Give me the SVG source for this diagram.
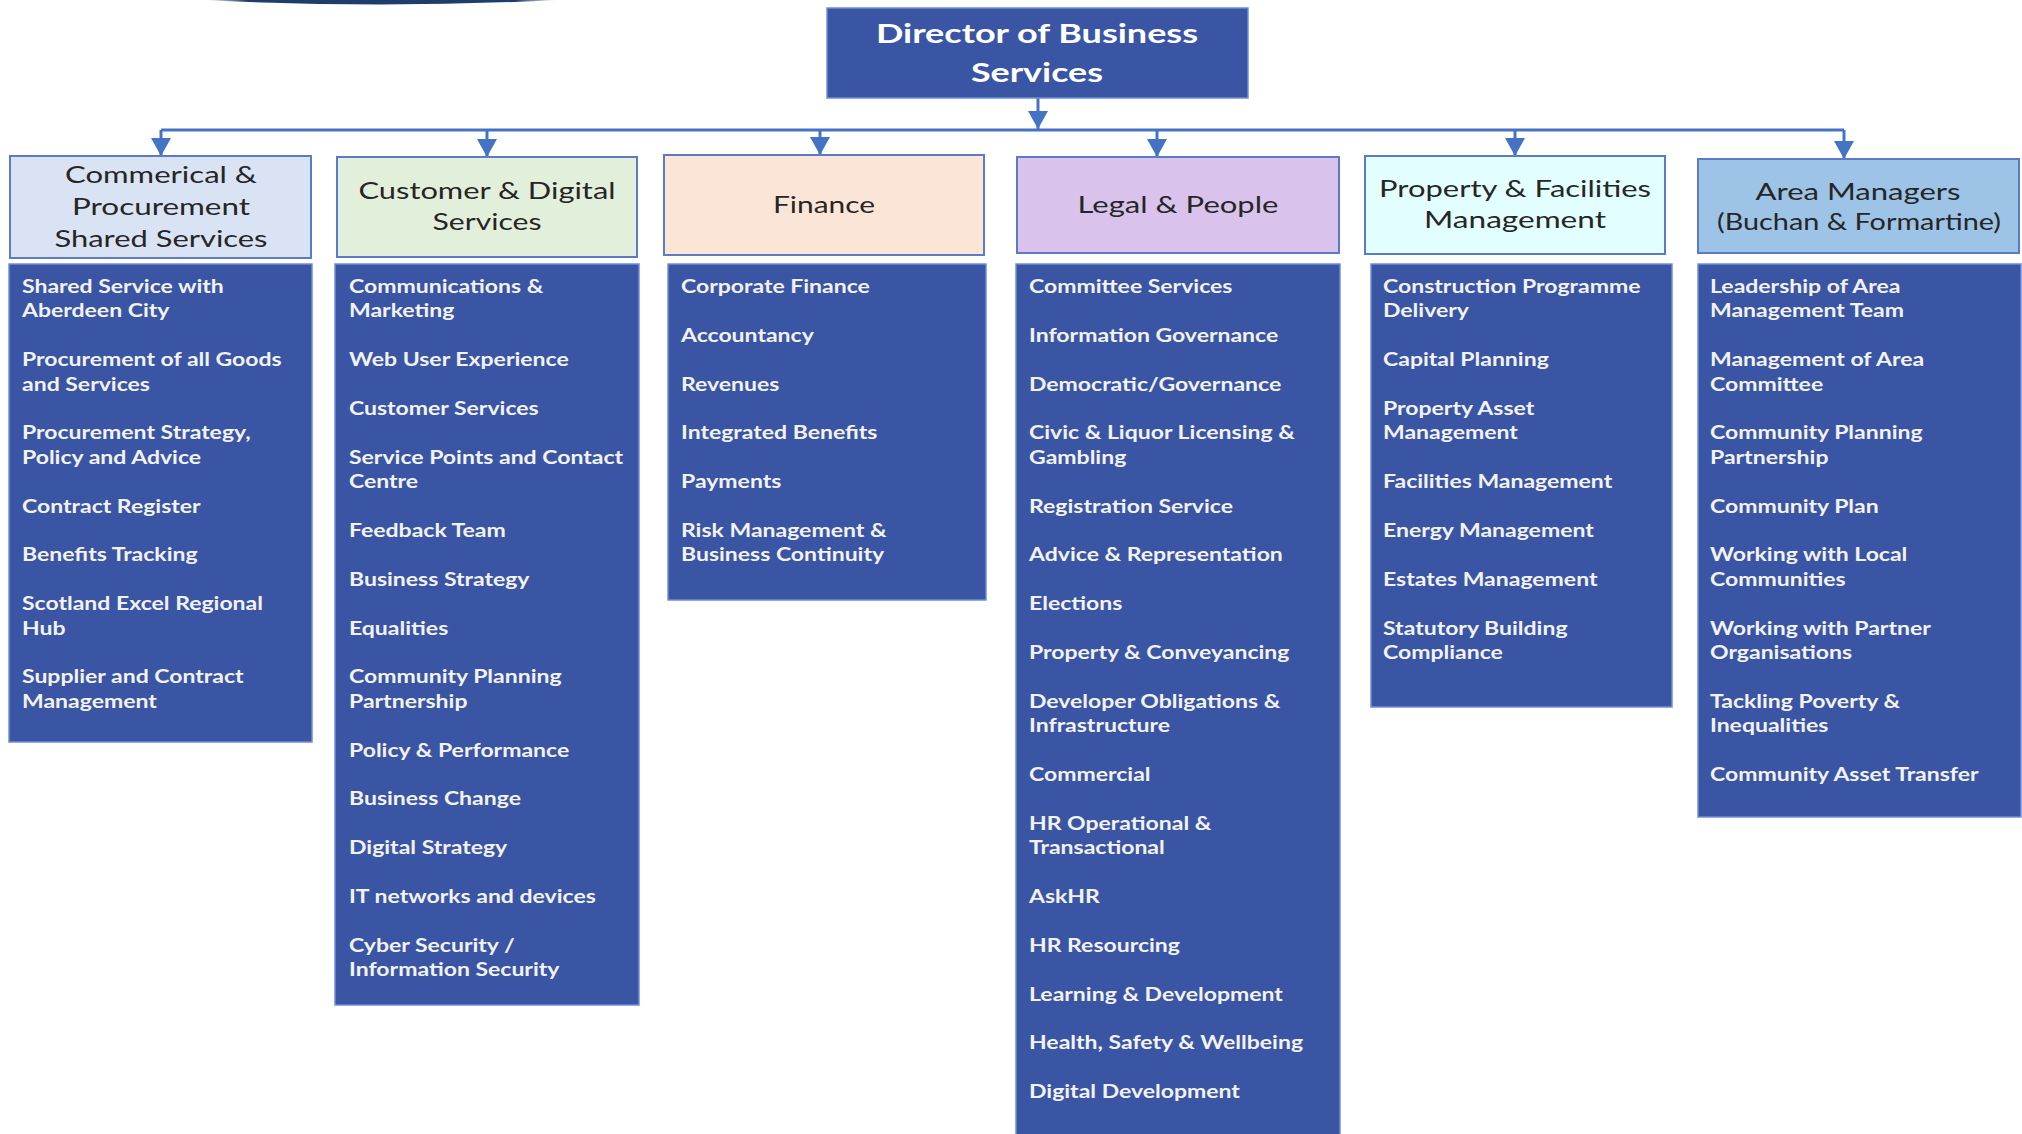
<svg xmlns="http://www.w3.org/2000/svg" width="2022" height="1134" viewBox="0 0 2022 1134">
  <defs>
    <linearGradient id="bandFade" x1="0" y1="0" x2="1" y2="0">
      <stop offset="0" stop-color="#1F3D6B" stop-opacity="0"/>
      <stop offset="0.12" stop-color="#1F3D6B"/>
      <stop offset="0.88" stop-color="#1F3D6B"/>
      <stop offset="1" stop-color="#1F3D6B" stop-opacity="0"/>
    </linearGradient>
    <marker id="arrow" markerUnits="userSpaceOnUse" viewBox="0 -11 18 22" refX="18" refY="0" markerWidth="18" markerHeight="22" orient="auto">
      <path d="M0,-10 L18,0 L0,10 Z" fill="#4472C4"/>
    </marker>
    <style>
      .hdr { stroke: #5B7BC8; stroke-width: 2; }
      .lst { fill: #3A55A4; stroke: #6F8FD8; stroke-width: 1.5; }
      .ht { font-family: Lato, "Liberation Sans", sans-serif; font-size: 23.5px; fill: #262626; text-anchor: middle; }
      .dt { font-family: Lato, "Liberation Sans", sans-serif; font-size: 26px; font-weight: 700; fill: #FFFFFF; text-anchor: middle; }
      .it { font-family: Lato, "Liberation Sans", sans-serif; font-size: 19.5px; font-weight: 700; fill: #F2F2F2; }
      .conn { stroke: #4472C4; stroke-width: 3; fill: none; }
    </style>
  </defs>

  <rect width="2022" height="1134" fill="#FFFFFF"/>

  <!-- decorative band at the top edge -->
  <path d="M204,0 Q381,9 558,0 Z" fill="url(#bandFade)"/>

  <!-- connectors -->
  <g id="connectors">
    <path class="conn" d="M1038,98 V129" marker-end="url(#arrow)"/>
    <path class="conn" d="M161,130 H1844"/>
    <path class="conn" d="M161,130 V156" marker-end="url(#arrow)"/>
    <path class="conn" d="M487,130 V157" marker-end="url(#arrow)"/>
    <path class="conn" d="M820,130 V155" marker-end="url(#arrow)"/>
    <path class="conn" d="M1157,130 V157" marker-end="url(#arrow)"/>
    <path class="conn" d="M1515,130 V156" marker-end="url(#arrow)"/>
    <path class="conn" d="M1844,130 V159" marker-end="url(#arrow)"/>
  </g>

  <!-- director -->
  <g id="director">
    <rect x="827" y="8" width="421" height="90" fill="#3A55A4" stroke="#6F8FD8" stroke-width="1.5"/>
    <text class="dt" x="1037" y="43" textLength="322" lengthAdjust="spacingAndGlyphs">Director of Business</text>
    <text class="dt" x="1037" y="82" textLength="132" lengthAdjust="spacingAndGlyphs">Services</text>
  </g>

  <!-- Commercial & Procurement -->
  <g id="commercial">
    <rect class="hdr" x="10" y="156" width="301" height="102" fill="#DAE3F3"/>
    <text class="ht" x="161" y="183" textLength="192" lengthAdjust="spacingAndGlyphs">Commerical &amp;</text>
    <text class="ht" x="161" y="215" textLength="178" lengthAdjust="spacingAndGlyphs">Procurement</text>
    <text class="ht" x="161" y="247" textLength="213" lengthAdjust="spacingAndGlyphs">Shared Services</text>
  </g>
  <g id="commercial-list">
    <rect class="lst" x="9" y="264" width="303" height="478"/>
    <g transform="translate(22 0) scale(1.18 1)" class="it">
      <text x="0" y="293">Shared Service with<tspan x="0" dy="24.4">Aberdeen City</tspan></text>
      <text x="0" y="366.2">Procurement of all Goods<tspan x="0" dy="24.4">and Services</tspan></text>
      <text x="0" y="439.4">Procurement Strategy,<tspan x="0" dy="24.4">Policy and Advice</tspan></text>
      <text x="0" y="512.6">Contract Register</text>
      <text x="0" y="561.4">Benefits Tracking</text>
      <text x="0" y="610.2">Scotland Excel Regional<tspan x="0" dy="24.4">Hub</tspan></text>
      <text x="0" y="683.4">Supplier and Contract<tspan x="0" dy="24.4">Management</tspan></text>
    </g>
  </g>

  <!-- Customer & Digital -->
  <g id="customer">
    <rect class="hdr" x="337" y="157" width="300" height="100" fill="#E2EFDA"/>
    <text class="ht" x="487" y="199" textLength="257" lengthAdjust="spacingAndGlyphs">Customer &amp; Digital</text>
    <text class="ht" x="487" y="230" textLength="109" lengthAdjust="spacingAndGlyphs">Services</text>
  </g>
  <g id="customer-list">
    <rect class="lst" x="335" y="264" width="304" height="741"/>
    <g transform="translate(349 0) scale(1.18 1)" class="it">
      <text x="0" y="293">Communications &amp;<tspan x="0" dy="24.4">Marketing</tspan></text>
      <text x="0" y="366.2">Web User Experience</text>
      <text x="0" y="415">Customer Services</text>
      <text x="0" y="463.8">Service Points and Contact<tspan x="0" dy="24.4">Centre</tspan></text>
      <text x="0" y="537">Feedback Team</text>
      <text x="0" y="585.8">Business Strategy</text>
      <text x="0" y="634.6">Equalities</text>
      <text x="0" y="683.4">Community Planning<tspan x="0" dy="24.4">Partnership</tspan></text>
      <text x="0" y="756.6">Policy &amp; Performance</text>
      <text x="0" y="805.4">Business Change</text>
      <text x="0" y="854.2">Digital Strategy</text>
      <text x="0" y="903">IT networks and devices</text>
      <text x="0" y="951.8">Cyber Security /<tspan x="0" dy="24.4">Information Security</tspan></text>
    </g>
  </g>

  <!-- Finance -->
  <g id="finance">
    <rect class="hdr" x="664" y="155" width="320" height="100" fill="#FBE5D6"/>
    <text class="ht" x="824" y="213" textLength="102" lengthAdjust="spacingAndGlyphs">Finance</text>
  </g>
  <g id="finance-list">
    <rect class="lst" x="668" y="264" width="318" height="336"/>
    <g transform="translate(681 0) scale(1.18 1)" class="it">
      <text x="0" y="293">Corporate Finance</text>
      <text x="0" y="341.8">Accountancy</text>
      <text x="0" y="390.6">Revenues</text>
      <text x="0" y="439.4">Integrated Benefits</text>
      <text x="0" y="488.2">Payments</text>
      <text x="0" y="537">Risk Management &amp;<tspan x="0" dy="24.4">Business Continuity</tspan></text>
    </g>
  </g>

  <!-- Legal & People -->
  <g id="legal">
    <rect class="hdr" x="1017" y="157" width="322" height="96" fill="#D9C3EC"/>
    <text class="ht" x="1178" y="213" textLength="201" lengthAdjust="spacingAndGlyphs">Legal &amp; People</text>
  </g>
  <g id="legal-list">
    <rect class="lst" x="1016" y="264" width="324" height="880"/>
    <g transform="translate(1029 0) scale(1.18 1)" class="it">
      <text x="0" y="293">Committee Services</text>
      <text x="0" y="341.8">Information Governance</text>
      <text x="0" y="390.6">Democratic/Governance</text>
      <text x="0" y="439.4">Civic &amp; Liquor Licensing &amp;<tspan x="0" dy="24.4">Gambling</tspan></text>
      <text x="0" y="512.6">Registration Service</text>
      <text x="0" y="561.4">Advice &amp; Representation</text>
      <text x="0" y="610.2">Elections</text>
      <text x="0" y="659">Property &amp; Conveyancing</text>
      <text x="0" y="707.8">Developer Obligations &amp;<tspan x="0" dy="24.4">Infrastructure</tspan></text>
      <text x="0" y="781">Commercial</text>
      <text x="0" y="829.8">HR Operational &amp;<tspan x="0" dy="24.4">Transactional</tspan></text>
      <text x="0" y="903">AskHR</text>
      <text x="0" y="951.8">HR Resourcing</text>
      <text x="0" y="1000.6">Learning &amp; Development</text>
      <text x="0" y="1049.4">Health, Safety &amp; Wellbeing</text>
      <text x="0" y="1098.2">Digital Development</text>
    </g>
  </g>

  <!-- Property & Facilities -->
  <g id="property">
    <rect class="hdr" x="1365" y="156" width="300" height="98" fill="#E3FEFE"/>
    <text class="ht" x="1515" y="197" textLength="272" lengthAdjust="spacingAndGlyphs">Property &amp; Facilities</text>
    <text class="ht" x="1515" y="228" textLength="182" lengthAdjust="spacingAndGlyphs">Management</text>
  </g>
  <g id="property-list">
    <rect class="lst" x="1371" y="264" width="301" height="443"/>
    <g transform="translate(1383 0) scale(1.18 1)" class="it">
      <text x="0" y="293">Construction Programme<tspan x="0" dy="24.4">Delivery</tspan></text>
      <text x="0" y="366.2">Capital Planning</text>
      <text x="0" y="415">Property Asset<tspan x="0" dy="24.4">Management</tspan></text>
      <text x="0" y="488.2">Facilities Management</text>
      <text x="0" y="537">Energy Management</text>
      <text x="0" y="585.8">Estates Management</text>
      <text x="0" y="634.6">Statutory Building<tspan x="0" dy="24.4">Compliance</tspan></text>
    </g>
  </g>

  <!-- Area Managers -->
  <g id="area">
    <rect class="hdr" x="1698" y="159" width="321" height="94" fill="#9DC3E6"/>
    <text class="ht" x="1858" y="200" textLength="205" lengthAdjust="spacingAndGlyphs">Area Managers</text>
    <text class="ht" x="1859" y="230" textLength="284" lengthAdjust="spacingAndGlyphs">(Buchan &amp; Formartine)</text>
  </g>
  <g id="area-list">
    <rect class="lst" x="1698" y="264" width="323" height="553"/>
    <g transform="translate(1710 0) scale(1.18 1)" class="it">
      <text x="0" y="293">Leadership of Area<tspan x="0" dy="24.4">Management Team</tspan></text>
      <text x="0" y="366.2">Management of Area<tspan x="0" dy="24.4">Committee</tspan></text>
      <text x="0" y="439.4">Community Planning<tspan x="0" dy="24.4">Partnership</tspan></text>
      <text x="0" y="512.6">Community Plan</text>
      <text x="0" y="561.4">Working with Local<tspan x="0" dy="24.4">Communities</tspan></text>
      <text x="0" y="634.6">Working with Partner<tspan x="0" dy="24.4">Organisations</tspan></text>
      <text x="0" y="707.8">Tackling Poverty &amp;<tspan x="0" dy="24.4">Inequalities</tspan></text>
      <text x="0" y="781">Community Asset Transfer</text>
    </g>
  </g>
</svg>
